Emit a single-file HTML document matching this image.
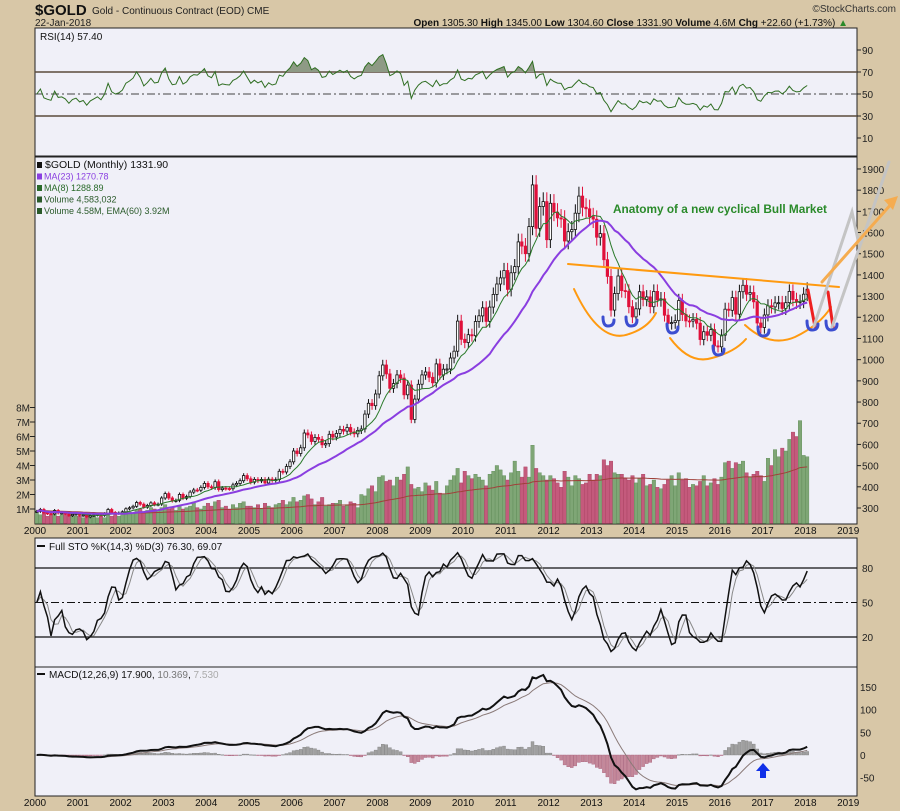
<!DOCTYPE html>
<html><head><meta charset="utf-8">
<style>
html,body{margin:0;padding:0;background:#d8c7a7;}
svg{display:block;font-family:"Liberation Sans",sans-serif;}
</style></head>
<body>
<svg id="chart" width="900" height="811" viewBox="0 0 900 811" xmlns="http://www.w3.org/2000/svg">
<rect x="0" y="0" width="900" height="811" fill="#d8c7a7"/>
<text x="35" y="15" font-size="15" font-weight="bold" fill="#111">$GOLD</text>
<text x="92" y="14" font-size="10" fill="#222">Gold - Continuous Contract (EOD) CME</text>
<text x="35" y="26" font-size="10" fill="#222">22-Jan-2018</text>
<text x="848" y="26" font-size="10" fill="#111" text-anchor="end"><tspan font-weight="bold">Open</tspan> 1305.30 <tspan font-weight="bold">High</tspan> 1345.00 <tspan font-weight="bold">Low</tspan> 1304.60 <tspan font-weight="bold">Close</tspan> 1331.90 <tspan font-weight="bold">Volume</tspan> 4.6M <tspan font-weight="bold">Chg</tspan> +22.60 (+1.73%) <tspan fill="#2a8a2a">▲</tspan></text>
<text x="896" y="12" font-size="10" fill="#333" text-anchor="end">©StockCharts.com</text>
<g id="layer"></g>
</svg>
<script>
// ---- data ----
const years = [2000,2001,2002,2003,2004,2005,2006,2007,2008,2009,2010,2011,2012,2013,2014,2015,2016,2017,2018,2019];
const closes = [
284,293,277,274,272,288,276,277,273,264,270,272,
265,267,258,264,267,270,265,273,293,279,275,277,
282,296,301,308,326,318,304,312,324,316,318,347,
368,347,334,336,364,346,354,375,385,384,397,416,
400,396,424,387,394,392,391,409,416,429,453,438,
422,435,428,435,418,436,430,434,473,470,496,518,
569,557,584,654,645,614,633,624,598,604,648,635,
652,671,663,680,659,650,666,673,743,794,783,838,
924,975,933,865,887,928,913,834,880,718,814,884,
928,942,917,891,980,927,955,956,1008,1040,1182,1096,
1081,1118,1113,1180,1207,1245,1181,1248,1308,1357,1386,1421,
1332,1410,1439,1556,1536,1500,1628,1825,1620,1723,1746,1566,
1738,1696,1669,1664,1560,1604,1614,1691,1772,1719,1712,1675,
1663,1578,1595,1472,1393,1234,1312,1395,1326,1323,1250,1202,
1240,1321,1284,1296,1250,1322,1282,1287,1210,1171,1175,1184,
1279,1213,1183,1182,1190,1172,1095,1132,1115,1142,1065,1061,
1116,1238,1233,1293,1215,1321,1351,1309,1317,1273,1173,1152,
1211,1254,1249,1268,1269,1242,1269,1322,1284,1271,1275,1309,
1332];
const volumes = [
.9,.6,.8,.5,.6,.7,.5,.6,.7,.5,.6,.5,
.5,.4,.6,.5,.5,.4,.5,.4,.7,.5,.6,.5,
.7,.6,.8,.7,.9,1.0,.8,.9,1.1,1.0,.9,1.1,
1.3,1.0,1.1,.9,1.2,1.0,1.1,1.2,1.4,1.1,1.0,1.2,
1.4,1.2,1.5,1.6,1.1,1.2,1.0,1.3,1.1,1.4,1.5,1.2,
1.2,1.1,1.3,1.0,1.4,1.2,1.1,1.3,1.4,1.6,1.3,1.5,
1.8,1.5,1.6,1.9,2.0,1.7,1.3,1.5,1.8,1.2,1.3,1.4,
1.4,1.6,1.2,1.3,1.5,1.4,1.1,2.0,1.9,2.4,2.6,2.2,
3.2,3.3,2.9,3.0,2.6,3.2,3.0,3.4,3.9,2.7,2.4,2.5,
2.2,2.8,2.6,2.3,2.9,2.1,2.0,2.6,3.0,3.3,3.8,2.8,
3.6,3.3,3.1,3.4,3.2,3.0,2.6,3.4,3.6,4.0,3.7,3.3,
3.0,3.5,4.3,3.6,3.2,3.9,3.2,5.4,3.8,3.5,3.3,3.0,
3.3,3.1,2.8,2.5,3.6,3.2,2.6,3.3,3.1,2.7,2.8,3.4,
3.0,3.4,3.3,4.4,4.0,4.3,3.5,3.4,3.4,3.1,3.0,3.3,
2.8,3.1,3.4,2.6,2.7,3.0,2.5,2.4,2.7,3.0,3.3,2.6,
3.5,3.0,3.1,2.5,2.7,2.6,2.9,3.3,2.6,2.8,3.1,2.7,
3.2,4.2,4.3,3.8,4.2,4.1,4.3,3.5,3.2,3.4,3.6,3.3,
2.9,4.5,4.0,5.1,4.6,5.2,5.0,5.8,6.3,6.0,7.1,4.7,
4.6];
const priceTicks = [300,400,500,600,700,800,900,1000,1100,1200,1300,1400,1500,1600,1700,1800,1900];
const volTicks = [1,2,3,4,5,6,7,8];
const rsiTicks = [10,30,50,70,90];
const stoTicks = [20,50,80];
const macdTicks = [-50,0,50,100,150];

// ---- layout / scales ----
const L=35, R=857;
const NS="http://www.w3.org/2000/svg";
const layer=document.getElementById('layer');
function mk(tag, attrs, parent){const e=document.createElementNS(NS,tag);for(const k in attrs)e.setAttribute(k,attrs[k]);(parent||layer).appendChild(e);return e;}
const monthW=42.8/12;
function xYear(y){return L+(y-2000)*42.8;}
function xMonth(i){return L+(i+0.5)*monthW;}
function yPrice(p){return 508-(p-300)*0.2119;}
function yVol(v){return 523.5-v*14.5;}
function yRsi(v){return 94-(v-50)*1.1;}
function ySto(v){return 637-(v-20)*1.15;}
function yMacd(v){return 755-v*0.4533;}

const panels=[["rsi-panel",28,156],["price-panel",157,524],["sto-panel",538,667],["macd-panel",667,796]];
panels.forEach(p=>{
  const r=mk('rect',{x:L,y:p[1],width:R-L,height:p[2]-p[1],fill:'#f0f0f8',stroke:'#222','stroke-width':1});
  
  
});
const clip=mk('clipPath',{id:'mainclip'});
mk('rect',{x:L,y:157,width:R-L,height:367},clip);
const clipR=mk('clipPath',{id:'rsiclip'});
mk('rect',{x:L,y:28,width:R-L,height:128},clipR);

// ---- indicators ----
const N=closes.length;
const opens=closes.map((c,i)=>i===0?c:closes[i-1]);
const highs=closes.map((c,i)=>Math.max(c,opens[i])*1.025);
const lows=closes.map((c,i)=>Math.min(c,opens[i])*0.975);
function sma(arr,n){return arr.map((v,i)=>{const s=Math.max(0,i-n+1);let t=0;for(let j=s;j<=i;j++)t+=arr[j];return t/(i-s+1);});}
function ema(arr,n){const k=2/(n+1);const o=[];arr.forEach((v,i)=>o.push(i===0?v:v*k+o[i-1]*(1-k)));return o;}
const ma23=sma(closes,23), ma8=sma(closes,8);
const volEma=ema(volumes,60);
// RSI (Wilder, seeded with average absolute move of first 14 months)
let seed=0;for(let i=1;i<=14;i++)seed+=Math.abs(closes[i]-closes[i-1]);seed/=28;
let ag=seed,al=seed;const rsi=[50];
for(let i=1;i<N;i++){const d=closes[i]-closes[i-1];const g=Math.max(d,0),l=Math.max(-d,0);ag=(ag*13+g)/14;al=(al*13+l)/14;rsi.push(al===0?100:100-100/(1+ag/al));}
// Stochastics
const rawK=closes.map((c,i)=>{const s=Math.max(0,i-13);let hh=-1e9,ll=1e9;for(let j=s;j<=i;j++){hh=Math.max(hh,highs[j]);ll=Math.min(ll,lows[j]);}return (c-ll)/(hh-ll)*100;});
const stoK=sma(rawK,3), stoD=sma(stoK,3);
// MACD
const e12=ema(closes,12), e26=ema(closes,26);
const macd=closes.map((c,i)=>e12[i]-e26[i]);
const signal=ema(macd,9);
const hist=macd.map((m,i)=>m-signal[i]);

function line(arr,fx,fy,attrs,name,start){
  let d='';for(let i=start||0;i<arr.length;i++){d+=(d?'L':'M')+fx(i).toFixed(1)+','+fy(arr[i]).toFixed(1);}
  const p=mk('path',Object.assign({d:d,fill:'none'},attrs));
  
  
  return p;
}

// ---- RSI panel ----
[[70,'solid'],[30,'solid'],[50,'dash']].forEach(g=>{
  const l=mk('line',{x1:L,x2:R,y1:yRsi(g[0]),y2:yRsi(g[0]),stroke:g[1]==='solid'?'#5a4a3a':'#444','stroke-width':g[1]==='solid'?1.5:1,'stroke-dasharray':g[1]==='solid'?'none':'8,3,2,3'});
  
  
});
{
  const cp=mk('clipPath',{id:'rsiOver'});mk('rect',{x:L,y:28,width:R-L,height:yRsi(70)-28},cp);
  let d='M'+xMonth(0)+','+yRsi(70);for(let i=0;i<N;i++)d+='L'+xMonth(i).toFixed(1)+','+yRsi(rsi[i]).toFixed(1);d+='L'+xMonth(N-1)+','+yRsi(70)+'Z';
  const f=mk('path',{d:d,fill:'#8e9a85','clip-path':'url(#rsiOver)'});
  
  
}
line(rsi,xMonth,yRsi,{stroke:'#2f6e22','stroke-width':1,'clip-path':'url(#rsiclip)'},'rsi-line');
rsiTicks.forEach(t=>{
  const tx=mk('text',{x:862,y:yRsi(t)+4,'font-size':10,fill:'#222'});tx.textContent=t;
  
  
  mk('line',{x1:R,x2:R+4,y1:yRsi(t),y2:yRsi(t),stroke:'#222'});
});
{const t=mk('text',{x:40,y:40,'font-size':10,fill:'#111'});t.textContent='RSI(14) 57.40';

}

// ---- price panel ----
const g=mk('g',{'clip-path':'url(#mainclip)'});


for(let i=0;i<N;i++){
  const up=i===0||closes[i]>=closes[i-1];
  const b=mk('rect',{x:(xMonth(i)-1.75).toFixed(1),y:yVol(volumes[i]).toFixed(1),width:3.5,height:(volumes[i]*14.5).toFixed(1),fill:up?'#7fa676':'#c45a7c',stroke:up?'#5d8a55':'#a8405f','stroke-width':0.4},g);
  
  
}
{const p=line(volEma,xMonth,yVol,{stroke:'#a0403a','stroke-width':1},'volume-ema-line');g.appendChild(p);}
for(let i=0;i<N;i++){
  const o=opens[i],c=closes[i],up=c>=o,x=xMonth(i);
  const w=mk('line',{x1:x,x2:x,y1:yPrice(highs[i]).toFixed(1),y2:yPrice(lows[i]).toFixed(1),stroke:up?'#111':'#e0103a','stroke-width':1},g);
  
  
  const top=yPrice(Math.max(o,c)),h=Math.max(1,Math.abs(yPrice(o)-yPrice(c)));
  const b=mk('rect',{x:(x-1.2).toFixed(1),y:top.toFixed(1),width:2.4,height:h.toFixed(1),fill:up?'#fff':'#e0103a',stroke:up?'#111':'#e0103a','stroke-width':0.8},g);
  
  
}
{const p=line(ma8,xMonth,yPrice,{stroke:'#2a7a2a','stroke-width':1},'ma8-line');g.appendChild(p);}
{const p=line(ma23,xMonth,yPrice,{stroke:'#8a3ee0','stroke-width':2},'ma23-line');g.appendChild(p);}
priceTicks.forEach(t=>{
  const tx=mk('text',{x:862,y:yPrice(t)+4,'font-size':10,fill:'#222'});tx.textContent=t;
  
  
  mk('line',{x1:R,x2:R+4,y1:yPrice(t),y2:yPrice(t),stroke:'#222'});
});
volTicks.forEach(t=>{
  const tx=mk('text',{x:30,y:yVol(t)+4,'font-size':10,fill:'#222','text-anchor':'end'});tx.textContent=t+'M';
  
  
  mk('line',{x1:30,x2:L,y1:yVol(t),y2:yVol(t),stroke:'#222'});
});
[['$GOLD (Monthly) 1331.90','#111','price-legend'],['MA(23) 1270.78','#8a3ee0','ma23-legend'],['MA(8) 1288.89','#2a6a2a','ma8-legend'],['Volume 4,583,032','#2a5a2a','volume-legend'],['Volume 4.58M, EMA(60) 3.92M','#2a5a2a','volume-ema-legend']].forEach((e,k)=>{
  const t=mk('text',{x:k===0?45:44,y:168+k*11.5,'font-size':k===0?10.5:9,fill:e[1]});t.textContent=e[0];
  
  
  mk('rect',{x:37,y:162+k*11.5,width:5,height:6,fill:e[1]});
});

// annotations
const ann=mk('g',{fill:'none','stroke-linecap':'round'});


[['M568,264 L839,287','#ff9a10',2,'neckline'],
 ['M574,289 Q600,345 629,334 Q648,328 656,313','#ff9a10',2,'cup-1'],
 ['M670,338 Q690,365 712,358 Q735,352 746,339','#ff9a10',2,'cup-2'],
 ['M745,325 Q770,348 795,337 Q820,325 831,307','#ff9a10',2,'cup-3'],
 ['M808,290 L815,327','#ee2020',3,'projection-drop-1'],
 ['M828,292 L833,327','#ee2020',3,'projection-drop-2'],
 ['M814,326 L852,212 L858,240','#c4c4c4',3,'projection-path-1'],
 ['M832,327 L889,162','#c4c4c4',3,'projection-path-2'],
 ['M822,282 L893,202','#f5ac50',3,'bull-arrow']
].forEach(a=>{const p=mk('path',{d:a[0],stroke:a[1],'stroke-width':a[2]},ann);
 
 });
{const p=mk('path',{d:'M898,196 L884,200 L893,210 Z',fill:'#f5ac50'},ann);
 
 }
[[608,323],[631,323],[672,330],[718,352],[763,333],[812,327],[831,327]].forEach(h=>{
  const p=mk('path',{d:`M${h[0]-5},${h[1]-6} Q${h[0]-5},${h[1]+3} ${h[0]},${h[1]+3} Q${h[0]+6},${h[1]+3} ${h[0]+6},${h[1]-3}`,stroke:'#3c4ed0','stroke-width':3},ann);
  
  
});
{const t=mk('text',{x:613,y:213,'font-size':12,'font-weight':'bold',fill:'#2a8a2a',textLength:214,lengthAdjust:'spacingAndGlyphs'});
t.textContent='Anatomy of a new cyclical Bull Market';

}

// date axes
[534,806].forEach(yy=>{
  years.forEach(y=>{
    const t=mk('text',{x:xYear(y),y:yy,'font-size':10,fill:'#111','text-anchor':'middle'});t.textContent=y;
    
    
  });
});

// ---- STO panel ----
[[80,1],[20,1],[50,0]].forEach(gl=>{
  const l=mk('line',{x1:L,x2:R,y1:ySto(gl[0]),y2:ySto(gl[0]),stroke:'#111','stroke-width':gl[1]?1.3:1,'stroke-dasharray':gl[1]?'none':'8,3,2,3'});
  
  
});
line(stoD,xMonth,ySto,{stroke:'#888','stroke-width':1},'sto-d-line');
line(stoK,xMonth,ySto,{stroke:'#111','stroke-width':1.5},'sto-k-line');
stoTicks.forEach(t=>{
  const tx=mk('text',{x:862,y:ySto(t)+4,'font-size':10,fill:'#222'});tx.textContent=t;
  
  
});
{const t=mk('text',{x:49,y:550,'font-size':10,fill:'#111'});t.textContent='Full STO %K(14,3) %D(3) 76.30, 69.07';


mk('rect',{x:37,y:545,width:8,height:2,fill:'#111'});}

// ---- MACD panel ----
for(let i=0;i<N;i++){
  const v=hist[i],y0=yMacd(0),y1=yMacd(v);
  const b=mk('rect',{x:(xMonth(i)-1.5).toFixed(1),y:Math.min(y0,y1).toFixed(1),width:3,height:Math.max(0.5,Math.abs(y1-y0)).toFixed(1),fill:v>=0?'#a0a0a0':'#c4889a',stroke:v>=0?'#808080':'#a8607a','stroke-width':0.4});
  
  
}
line(signal,xMonth,yMacd,{stroke:'#8a7a78','stroke-width':1},'macd-signal-line');
line(macd,xMonth,yMacd,{stroke:'#111','stroke-width':2},'macd-line');
macdTicks.forEach(t=>{
  const tx=mk('text',{x:860,y:yMacd(t)+4,'font-size':10,fill:'#222'});tx.textContent=t;
  
  
});
{const t=mk('text',{x:49,y:678,'font-size':10,fill:'#111'});
t.innerHTML='MACD(12,26,9) 17.900, <tspan fill="#777">10.369</tspan>, <tspan fill="#aaa">7.530</tspan>';


mk('rect',{x:37,y:673,width:8,height:2,fill:'#111'});}
{const p=mk('path',{d:'M763,763 L770,771 L766,771 L766,778 L760,778 L760,771 L756,771 Z',fill:'#1030e8'});

}
</script>
</body></html>
